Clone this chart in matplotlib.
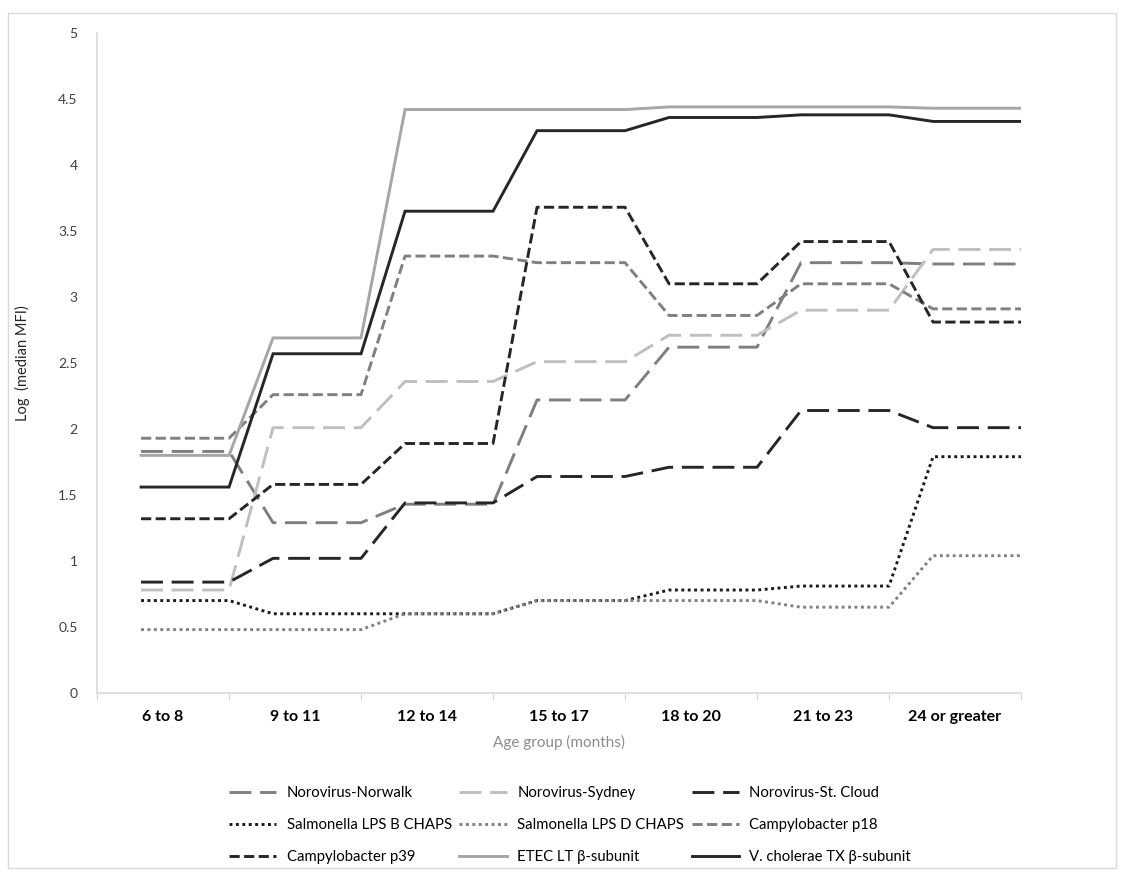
import matplotlib.pyplot as plt
from matplotlib.patches import Rectangle

plt.rcParams['font.family'] = ['Lato', 'DejaVu Sans']

# age groups on the x axis
age_groups = ["6 to 8", "9 to 11", "12 to 14", "15 to 17", "18 to 20", "21 to 23", "24 or greater"]

# log(median MFI) per antigen and age group
norwalk = [1.83, 1.29, 1.43, 2.22, 2.62, 3.26, 3.25]
sydney = [0.78, 2.01, 2.36, 2.51, 2.71, 2.90, 3.36]
st_cloud = [0.84, 1.02, 1.44, 1.64, 1.71, 2.14, 2.01]
salm_b = [0.70, 0.60, 0.60, 0.70, 0.78, 0.81, 1.79]
salm_d = [0.48, 0.48, 0.60, 0.70, 0.70, 0.65, 1.04]
campy_p18 = [1.93, 2.26, 3.31, 3.26, 2.86, 3.10, 2.91]
campy_p39 = [1.32, 1.58, 1.89, 3.68, 3.10, 3.42, 2.81]
etec = [1.80, 2.69, 4.42, 4.42, 4.44, 4.44, 4.43]
vchol = [1.56, 2.57, 3.65, 4.26, 4.36, 4.38, 4.33]

long_dash = (0, (7.5, 3))
short_dash = (0, (3.5, 1.5))
dot = (0, (1, 1.2))

series = [
    ("Norovirus-Norwalk", norwalk, "#7f7f7f", long_dash),
    ("Norovirus-Sydney", sydney, "#bfbfbf", long_dash),
    ("Norovirus-St. Cloud", st_cloud, "#262626", long_dash),
    ("Salmonella LPS B CHAPS", salm_b, "#1a1a1a", dot),
    ("Salmonella LPS D CHAPS", salm_d, "#808080", dot),
    ("Campylobacter p18", campy_p18, "#808080", short_dash),
    ("Campylobacter p39", campy_p39, "#262626", short_dash),
    ("ETEC LT \u03b2-subunit", etec, "#a6a6a6", "-"),
    ("V. cholerae TX \u03b2-subunit", vchol, "#262626", "-"),
]

fig = plt.figure(figsize=(11.22, 8.71), dpi=100)
ax = fig.add_axes([0.0865, 0.2044, 0.8235, 0.7577])

# every age group is drawn as a flat run across the later part of its slot
handles = []
for name, vals, col, ls in series:
    xs, ys = [], []
    for i, v in enumerate(vals):
        xs += [i + 1 / 3, i + 1]
        ys += [v, v]
    ln, = ax.plot(xs, ys, color=col, linestyle=ls, linewidth=2.1, label=name,
                  solid_joinstyle="miter", dash_capstyle="butt")
    handles.append(ln)

ax.set_xlim(0, 7)
ax.set_ylim(0, 5)

ax.set_xticks(range(8))
ax.set_xticklabels([])
ax.set_xticks([i + 0.5 for i in range(len(age_groups))], minor=True)
ax.set_xticklabels(age_groups, minor=True, fontsize=11.5, fontweight="bold")
ax.tick_params(axis="x", which="major", length=5, color="#d9d9d9", direction="out")
ax.tick_params(axis="x", which="minor", length=0, pad=12)

ax.set_yticks([k * 0.5 for k in range(11)])
ax.set_yticklabels(["%g" % (k * 0.5) for k in range(11)], fontsize=10, color="#404040")
ax.tick_params(axis="y", length=0, pad=14)

for s in ["top", "right"]:
    ax.spines[s].set_visible(False)
ax.spines["left"].set_color("#d9d9d9")
ax.spines["bottom"].set_color("#d9d9d9")
ax.spines["left"].set_linewidth(1.2)
ax.spines["bottom"].set_linewidth(1.2)

ax.set_ylabel("Log  (median MFI)", fontsize=10.5, color="#262626", labelpad=20)
fig.text(0.498, 1 - 742 / 871, "Age group (months)", ha="center", va="center",
         fontsize=11, color="#8c8c8c")

# legend filled row by row, three entries per row
order = [0, 3, 6, 1, 4, 7, 2, 5, 8]
fig.legend([handles[k] for k in order], [handles[k].get_label() for k in order],
           ncol=3, loc="center", bbox_to_anchor=(0.508, 0.0525), frameon=False,
           fontsize=10.7, handlelength=3.2, handletextpad=0.7, columnspacing=0.5,
           labelspacing=1.2)

fig.patches.append(Rectangle((0.007, 0.004), 0.988, 0.981, transform=fig.transFigure,
                             fill=False, edgecolor="#d9d9d9", linewidth=1))

fig.savefig("out.png", dpi=100)
